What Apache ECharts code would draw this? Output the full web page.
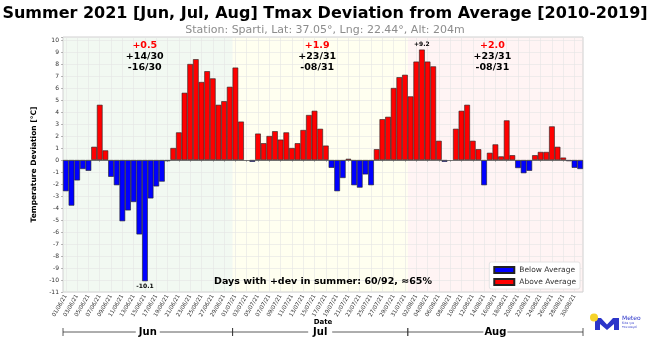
<!DOCTYPE html>
<html><head><meta charset="utf-8">
<script src="https://cdn.jsdelivr.net/npm/echarts@6/dist/echarts.min.js"></script>
<style>html,body{margin:0;padding:0;background:#fff}#c{width:650px;height:341px}</style>
</head><body><div id="c"></div>
<script>
// ---------- data ----------
const months = ['Jun', 'Jul', 'Aug'];
const monthNums = ['06', '07', '08'];
const monthDays = [30, 31, 31];
const junValues = [-2.6, -3.8, -1.7, -0.75, -0.9, 1.1, 4.6, 0.8, -1.4, -2.1, -5.1, -4.2, -3.5, -6.2, -10.1, -3.2, -2.2, -1.8, -0.1, 1.0, 2.3, 5.6, 8.0, 8.4, 6.5, 7.4, 6.8, 4.6, 4.9, 6.1];
const julValues = [7.7, 3.2, 0, -0.15, 2.2, 1.4, 2.0, 2.4, 1.7, 2.3, 1.0, 1.4, 2.5, 3.75, 4.1, 2.6, 1.2, -0.65, -2.6, -1.5, 0.1, -2.1, -2.3, -1.2, -2.1, 0.9, 3.4, 3.6, 6.0, 6.9, 7.1];
const augValues = [5.3, 8.2, 9.2, 8.2, 7.8, 1.6, -0.15, 0, 2.6, 4.1, 4.6, 1.6, 0.9, -2.1, 0.6, 1.3, 0.3, 3.3, 0.4, -0.67, -1.1, -0.9, 0.4, 0.67, 0.67, 2.8, 1.1, 0.2, -0.1, -0.65, -0.75];
const monthMeanLabels = ['+0.5', '+1.9', '+2.0'];
const monthPosLabels = ['+14/30', '+23/31', '+23/31'];
const monthNegLabels = ['-16/30', '-08/31', '-08/31'];
const monthShade = ['rgba(0,128,0,0.05)', 'rgba(255,255,0,0.06)', 'rgba(255,0,0,0.045)'];
const summaryText = 'Days with +dev in summer: 60/92, \u224865%';
const titleText = 'Summer 2021 [Jun, Jul, Aug] Tmax Deviation from Average [2010-2019]';
const subtitleText = 'Station: Sparti, Lat: 37.05\u00b0, Lng: 22.44\u00b0, Alt: 204m';
const xAxisTitle = 'Date';
const yMin = -11, yMax = 10.25, yStep = 1;

// ---------- build ----------
const categories = [];
months.forEach((m, k) => {
  for (let d = 1; d <= monthDays[k]; d++) categories.push(String(d).padStart(2, '0') + '/' + monthNums[k] + '/21');
});
const values = junValues.concat(julValues, augValues);
const maxV = Math.max(...values), minV = Math.min(...values);
const maxIdx = values.indexOf(maxV), minIdx = values.indexOf(minV);
const extLabel = {show: true, fontSize: 6, fontWeight: 'bold', color: '#000', fontFamily: 'DejaVu Sans', distance: 2};
const redData = values.map((v, i) => v > 0 ? (i === maxIdx ? {value: v, label: Object.assign({position: 'top', formatter: '+' + v.toFixed(1)}, extLabel)} : v) : '-');
const blueData = values.map((v, i) => v < 0 ? (i === minIdx ? {value: v, label: Object.assign({position: 'bottom', formatter: v.toFixed(1)}, extLabel)} : v) : '-');

const FF = 'DejaVu Sans';
const gridL = 63, gridR = 67, gridT = 37, gridB = 49;

const option = {
  animation: false,
  backgroundColor: '#fff',
  title: {
    text: titleText, subtext: subtitleText, left: 'center', top: 1, itemGap: 3,
    textStyle: {fontSize: 16, fontWeight: 'bold', color: '#000', fontFamily: FF},
    subtextStyle: {fontSize: 11, color: '#8c8c8c', fontFamily: FF}
  },
  legend: {
    orient: 'vertical', right: 70, top: 262, itemWidth: 20, itemHeight: 6, itemGap: 4,
    backgroundColor: '#fff', borderColor: '#ddd', borderWidth: 0.8, borderRadius: 2, padding: [4, 4, 3, 4],
    textStyle: {fontSize: 7.5, color: '#333', fontFamily: FF},
    data: [{name: 'Below Average', icon: 'rect'}, {name: 'Above Average', icon: 'rect'}]
  },
  grid: {left: gridL, right: gridR, top: gridT, bottom: gridB, show: true, borderColor: '#d0d0d0', borderWidth: 1},
  xAxis: {
    type: 'category', data: categories, boundaryGap: true,
    axisLine: {show: false},
    axisTick: {show: true, interval: 1, alignWithLabel: true, length: 2, lineStyle: {color: '#888', width: 0.6}},
    axisLabel: {interval: 1, rotate: 60, fontSize: 5.5, color: '#333', fontFamily: FF, margin: 3},
    splitLine: {show: true, interval: 1, alignWithLabel: true, lineStyle: {color: '#e4e4e4', width: 0.6}}
  },
  yAxis: {
    type: 'value', min: yMin, max: yMax, interval: yStep,
    name: 'Temperature Deviation [\u00b0C]', nameLocation: 'middle', nameGap: 17,
    nameTextStyle: {fontSize: 7.5, fontWeight: 'bold', color: '#000', fontFamily: FF},
    axisLine: {show: false},
    axisTick: {show: true, length: 2, lineStyle: {color: '#888', width: 0.6}},
    axisLabel: {fontSize: 6, color: '#333', fontFamily: FF, margin: 4,
      formatter: v => Number.isInteger(v) ? String(v) : ''},
    splitLine: {show: true, lineStyle: {color: '#e4e4e4', width: 0.6}}
  },
  series: [
    {name: 'Below Average', type: 'bar', stack: 's', data: blueData, barCategoryGap: '0%',
      itemStyle: {color: '#0000ff', borderColor: '#222', borderWidth: 0.6}},
    {name: 'Above Average', type: 'bar', stack: 's', data: redData, barCategoryGap: '0%',
      itemStyle: {color: '#ff0000', borderColor: '#222', borderWidth: 0.6},
      markLine: {silent: true, symbol: 'none', label: {show: false},
        lineStyle: {color: '#555', width: 0.8, type: 'solid'}, data: [{yAxis: 0}]}}
  ]
};

const chart = echarts.init(document.getElementById('c'), null, {renderer: 'canvas', width: 650, height: 341});
chart.setOption(option);

const px = i => chart.convertToPixel({xAxisIndex: 0}, categories[i]);
const bw = px(1) - px(0);
const yTop = chart.convertToPixel({yAxisIndex: 0}, yMax);
const yBot = chart.convertToPixel({yAxisIndex: 0}, yMin);
const g = [];
let s = 0;
const bracketY = 332;
months.forEach((m, k) => {
  const e = s + monthDays[k] - 1;
  const x0 = px(s) - bw / 2, x1 = px(e) + bw / 2, xc = (x0 + x1) / 2;
  g.push({type: 'rect', z: -1, silent: true, shape: {x: x0, y: yTop, width: x1 - x0, height: yBot - yTop}, style: {fill: monthShade[k]}});
  const tc = xc - 3;
  g.push({type: 'text', z: 10, style: {text: monthMeanLabels[k], x: tc, y: 46, fill: '#ff0000', font: 'bold 9.5px "DejaVu Sans"', textAlign: 'center', textVerticalAlign: 'middle'}});
  g.push({type: 'text', z: 10, style: {text: monthPosLabels[k], x: tc, y: 57, fill: '#000', font: 'bold 9.5px "DejaVu Sans"', textAlign: 'center', textVerticalAlign: 'middle'}});
  g.push({type: 'text', z: 10, style: {text: monthNegLabels[k], x: tc, y: 67.5, fill: '#000', font: 'bold 9.5px "DejaVu Sans"', textAlign: 'center', textVerticalAlign: 'middle'}});
  // bracket
  const ls = {stroke: '#333', lineWidth: 0.8};
  g.push({type: 'line', shape: {x1: x0, y1: bracketY, x2: xc - 12, y2: bracketY}, style: ls});
  g.push({type: 'line', shape: {x1: xc + 12, y1: bracketY, x2: x1, y2: bracketY}, style: ls});
  g.push({type: 'line', shape: {x1: x0, y1: bracketY - 4, x2: x0, y2: bracketY + 4}, style: ls});
  g.push({type: 'line', shape: {x1: x1, y1: bracketY - 4, x2: x1, y2: bracketY + 4}, style: ls});
  g.push({type: 'text', style: {text: m, x: xc, y: bracketY, fill: '#000', font: 'bold 10px "DejaVu Sans"', textAlign: 'center', textVerticalAlign: 'middle'}});
  s = e + 1;
});
const plotMid = (px(0) + px(91)) / 2;
g.push({type: 'text', z: 10, style: {text: summaryText, x: plotMid, y: 282, fill: '#000', font: 'bold 9.5px "DejaVu Sans"', textAlign: 'center', textVerticalAlign: 'middle'}});
g.push({type: 'text', z: 10, style: {text: xAxisTitle, x: plotMid, y: 322.5, fill: '#000', font: 'bold 7px "DejaVu Sans"', textAlign: 'center', textVerticalAlign: 'middle'}});
// logo
g.push({type: 'polygon', z: 10, shape: {points: [[595, 318], [601, 318], [607, 324.5], [613, 318], [619, 318], [619, 330], [614, 330], [614, 324], [607, 330], [600, 324], [600, 330], [595, 330]]}, style: {fill: '#2b34c9'}});
g.push({type: 'circle', z: 11, shape: {cx: 594, cy: 317.5, r: 4}, style: {fill: '#f6d32a'}});
g.push({type: 'text', z: 10, style: {text: 'Meteo', x: 622, y: 318, fill: '#2b34c9', font: '6px "DejaVu Sans"', textVerticalAlign: 'middle'}});
g.push({type: 'text', z: 10, style: {text: '\u038c\u03bb\u03b1 \u03b3\u03b9\u03b1', x: 622, y: 323.5, fill: '#2b34c9', font: '3px "DejaVu Sans"', textVerticalAlign: 'middle'}});
g.push({type: 'text', z: 10, style: {text: '\u03c4\u03bf\u03bd \u03ba\u03b1\u03b9\u03c1\u03cc', x: 622, y: 327, fill: '#2b34c9', font: '3px "DejaVu Sans"', textVerticalAlign: 'middle'}});
chart.setOption({graphic: g});
</script></body></html>
